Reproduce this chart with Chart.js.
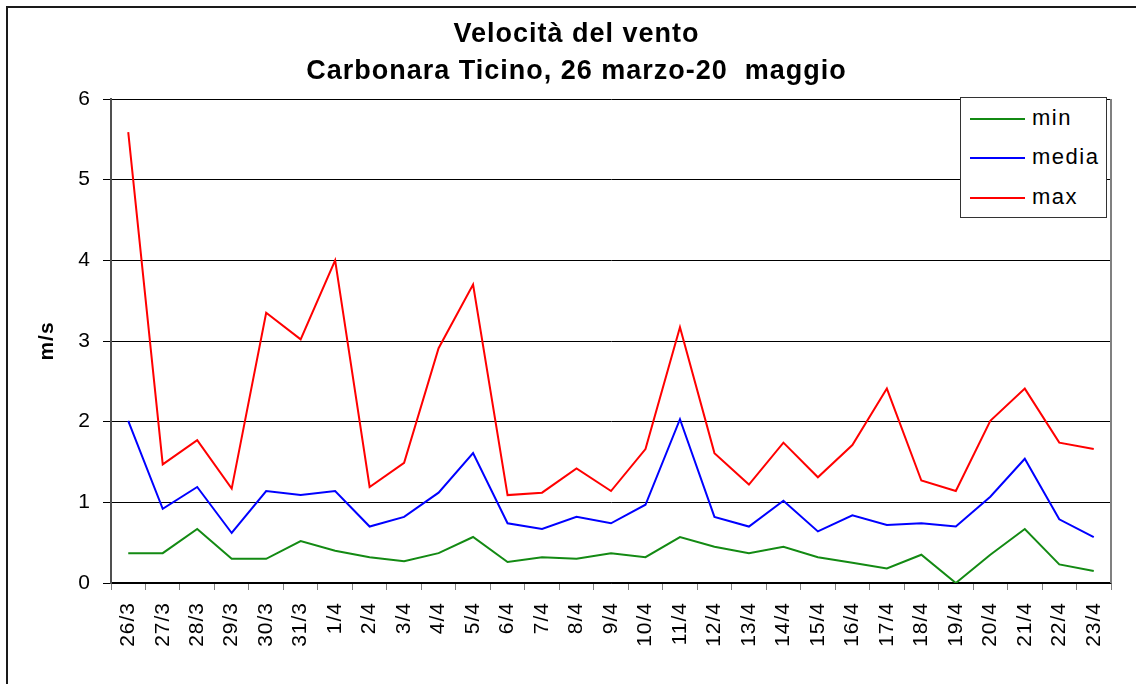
<!DOCTYPE html>
<html>
<head>
<meta charset="utf-8">
<script src="https://cdn.jsdelivr.net/npm/chart.js@4.4.1/dist/chart.umd.min.js"></script>
<style>
  html, body { margin: 0; padding: 0; background: #fff; overflow: hidden; }
  #wrap { position: relative; width: 1136px; height: 684px; }
  #frame {
    position: absolute; left: 6px; top: 6px; width: 1300px; height: 900px;
    border-left: 2px solid #1a1a1a; border-top: 2px solid #1a1a1a;
  }
  #chart { position: absolute; left: 0; top: 0; }
  #legend {
    position: absolute; left: 960px; top: 97px; width: 145px; height: 119px;
    border: 1px solid #333; background: #fff;
    font-family: "Liberation Sans", Arial, sans-serif; font-size: 22px; letter-spacing: 1.5px;
  }
  #legend .item { position: absolute; left: 0; height: 24px; }
  #legend .swatch { position: absolute; left: 9px; top: 11px; width: 55px; height: 2px; }
  #legend .label { position: absolute; left: 71px; top: -1px; line-height: 24px; white-space: nowrap; }
</style>
</head>
<body>
<div id="wrap">
  <div id="frame"></div>
  <canvas id="chart" width="1136" height="684"></canvas>
  <div id="legend"></div>
</div>
<script>
// velocità del vento, Carbonara Ticino
const giorni = ['26/3', '27/3', '28/3', '29/3', '30/3', '31/3', '1/4', '2/4', '3/4', '4/4',
  '5/4', '6/4', '7/4', '8/4', '9/4', '10/4', '11/4', '12/4', '13/4', '14/4',
  '15/4', '16/4', '17/4', '18/4', '19/4', '20/4', '21/4', '22/4', '23/4'];

const velMin = [0.37, 0.37, 0.67, 0.30, 0.30, 0.52, 0.40, 0.32, 0.27, 0.37,
  0.57, 0.26, 0.32, 0.30, 0.37, 0.32, 0.57, 0.45, 0.37, 0.45,
  0.32, 0.25, 0.18, 0.35, 0.00, 0.35, 0.67, 0.23, 0.15];

const velMedia = [2.01, 0.92, 1.19, 0.62, 1.14, 1.09, 1.14, 0.70, 0.82, 1.12,
  1.61, 0.74, 0.67, 0.82, 0.74, 0.97, 2.03, 0.82, 0.70, 1.02,
  0.64, 0.84, 0.72, 0.74, 0.70, 1.07, 1.54, 0.79, 0.57];

const velMax = [5.59, 1.47, 1.77, 1.17, 3.35, 3.02, 4.00, 1.19, 1.49, 2.91,
  3.70, 1.09, 1.12, 1.42, 1.14, 1.66, 3.17, 1.61, 1.22, 1.74,
  1.31, 1.71, 2.41, 1.27, 1.14, 2.01, 2.41, 1.74, 1.66];

const yTicks = [0, 1, 2, 3, 4, 5, 6];

const titolo = ['Velocità del vento', 'Carbonara Ticino, 26 marzo-20  maggio'];

Chart.defaults.font.family = '"Liberation Sans", Arial, sans-serif';
Chart.defaults.color = '#000';

// Excel spaces its letters out a bit
const spacing = {
  id: 'spacing',
  beforeUpdate(chart) { chart.ctx.letterSpacing = '1px'; },
  beforeDraw(chart) { chart.ctx.letterSpacing = '1px'; }
};

// gray border on the right side of the plot area
const plotFrame = {
  id: 'plotFrame',
  afterDraw(chart) {
    const { ctx, chartArea } = chart;
    ctx.save();
    ctx.strokeStyle = '#808080';
    ctx.lineWidth = 2;
    ctx.beginPath();
    ctx.moveTo(chartArea.right, chartArea.top);
    ctx.lineTo(chartArea.right, chartArea.bottom);
    ctx.stroke();
    ctx.restore();
  }
};

const serie = (label, data, color) => ({
  label: label,
  data: data,
  borderColor: color,
  backgroundColor: color,
  borderWidth: 2,
  pointRadius: 0,
  tension: 0,
  fill: false
});

const chart = new Chart(document.getElementById('chart').getContext('2d'), {
  type: 'line',
  data: {
    labels: giorni,
    datasets: [
      serie('min', velMin, '#138a13'),
      serie('media', velMedia, '#0000ff'),
      serie('max', velMax, '#ff0000')
    ]
  },
  options: {
    responsive: false,
    animation: false,
    layout: { padding: { left: 42, right: 25, top: 0, bottom: 0 } },
    plugins: {
      legend: { display: false },
      tooltip: { enabled: false },
      title: {
        display: true,
        text: titolo,
        font: { size: 27, weight: 'bold', lineHeight: '37px' },
        padding: { top: 16, bottom: 9 }
      }
    },
    scales: {
      x: {
        offset: true,
        grid: {
          offset: true,
          drawOnChartArea: false,
          drawTicks: true,
          tickLength: 7,
          color: '#808080'
        },
        border: { color: '#000', width: 1.5 },
        ticks: {
          autoSkip: false,
          minRotation: 90,
          maxRotation: 90,
          padding: 12,
          font: { size: 21 }
        },
        afterFit(scale) { scale.height = 101; }
      },
      y: {
        min: 0,
        max: 6,
        afterBuildTicks(scale) { scale.ticks = yTicks.map(v => ({ value: v })); },
        grid: { color: '#000', lineWidth: 1, tickLength: 8 },
        border: { color: '#505050', width: 2 },
        ticks: { padding: 12, font: { size: 21 } },
        title: {
          display: true,
          text: 'm/s',
          font: { size: 21, weight: 'bold' },
          padding: { top: -7, bottom: 0 }
        },
        afterFit(scale) { scale.width = 69; }
      }
    }
  },
  plugins: [spacing, plotFrame]
});

// legend inside the plot, like the original
const legend = document.getElementById('legend');
const rowTop = [9, 48, 88];
chart.data.datasets.forEach((ds, i) => {
  const item = document.createElement('div');
  item.className = 'item';
  item.style.top = rowTop[i] + 'px';
  item.innerHTML = '<span class="swatch" style="background:' + ds.borderColor + '"></span>' +
    '<span class="label">' + ds.label + '</span>';
  legend.appendChild(item);
});
</script>
</body>
</html>
